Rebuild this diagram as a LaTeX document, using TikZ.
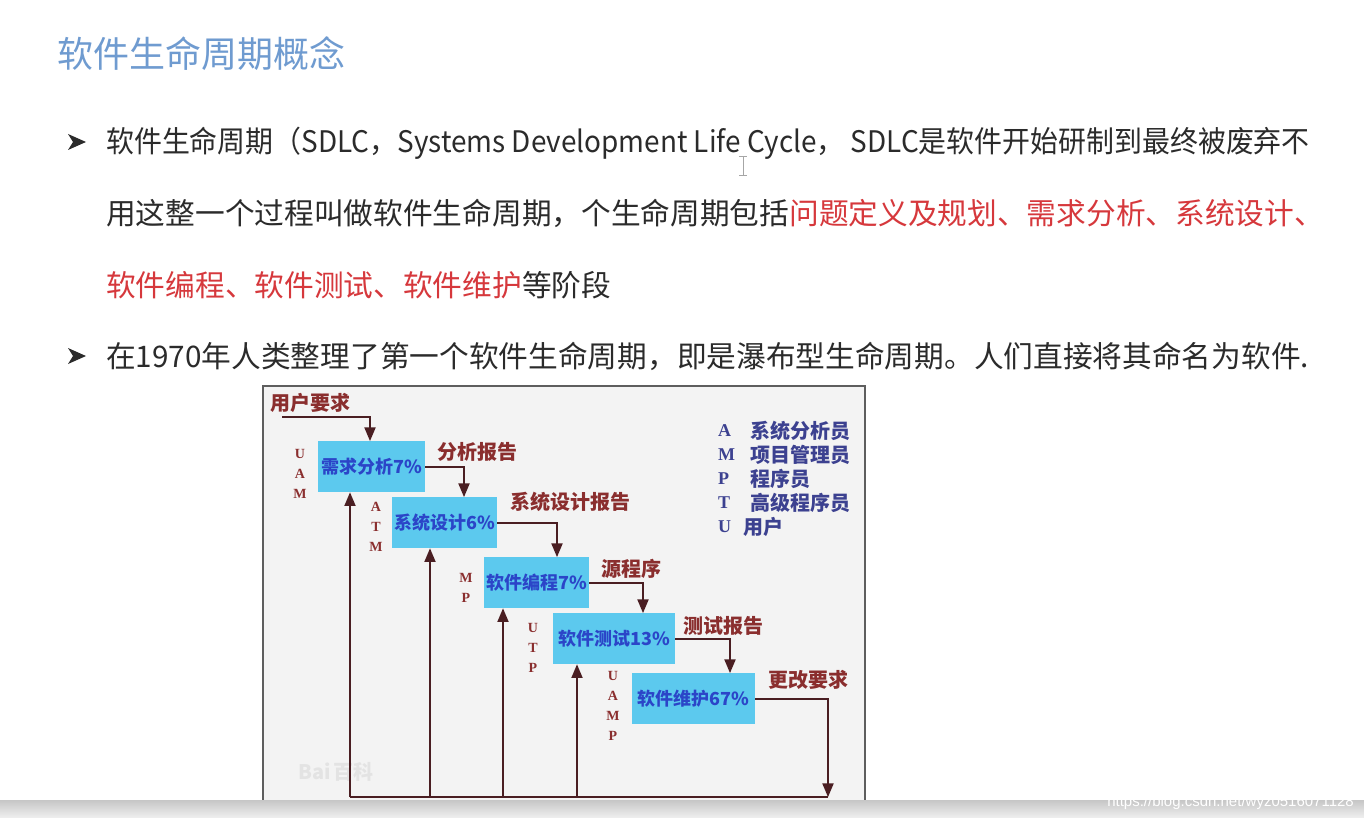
\documentclass[tikz,border=0pt]{standalone}
\usepackage{fontspec}
\usepackage{tikz}
\usetikzlibrary{calc,arrows}
\setmainfont{Noto Sans CJK SC}
\newfontfamily\romfont{Liberation Serif}
\newfontfamily\urlfont{Liberation Sans}
\definecolor{titleblue}{HTML}{6F9BD0}
\definecolor{redtxt}{HTML}{D6383C}
\definecolor{bodytxt}{HTML}{2B2B2B}
\definecolor{boxcyan}{HTML}{5CC9EE}
\definecolor{boxtxt}{HTML}{2B45C8}
\definecolor{lblred}{HTML}{8A2E2E}
\definecolor{arrowc}{HTML}{4A1E22}
\definecolor{legblue}{HTML}{3C4190}
\definecolor{framec}{HTML}{5E5E5E}
\definecolor{panel}{HTML}{F3F3F3}
\tikzset{
  line/.style={anchor=base west,inner sep=0pt,text=bodytxt,font=\fontsize{29.7}{29.7}\selectfont},
  stage/.style={fill=boxcyan,anchor=north west,minimum width=#1,minimum height=51pt,inner sep=0pt,text=boxtxt,font=\fontsize{18}{18}\selectfont\bfseries},
  doc/.style={anchor=west,inner sep=0pt,text=lblred,font=\fontsize{20}{20}\selectfont\bfseries},
  roles/.style={inner sep=0pt,align=center,text=lblred,font=\romfont\fontsize{14}{20}\selectfont\bfseries},
  legkey/.style={anchor=west,inner sep=0pt,text=legblue,font=\romfont\fontsize{18}{18}\selectfont\bfseries},
  legval/.style={anchor=west,inner sep=0pt,text=legblue,font=\fontsize{20}{20}\selectfont\bfseries},
  flow/.style={draw=arrowc,line width=2.2pt,-triangle 45},
  wire/.style={draw=arrowc,line width=2.2pt}
}
\begin{document}
\begin{tikzpicture}[x=1pt,y=-1pt]
\useasboundingbox (0,0) rectangle (1364,818);
\fill[white] (0,0) rectangle (1364,818);
\node[anchor=base west,inner sep=0pt,text=titleblue,font=\fontsize{36}{36}\selectfont](title)at(57,68){软件生命周期概念};
\fill[bodytxt] (68,134) -- (86,142) -- (68,150) -- (73,142) -- cycle;
\node[line](l1)at(106,153){\scalebox{0.94}[1]{软件生命周期（SDLC，Systems Development Life Cycle， SDLC是软件开始研制到最终被废弃不}};
\node[line](l2)at(106,225){用这整一个过程叫做软件生命周期，个生命周期包括\textcolor{redtxt}{问题定义及规划、需求分析、系统设计、}};
\node[line](l3)at(106,296){\textcolor{redtxt}{软件编程、软件测试、软件维护}等阶段};
\fill[bodytxt] (68,348) -- (86,356) -- (68,364) -- (73,356) -- cycle;
\node[line](l4)at(106,367){在1970年人类整理了第一个软件生命周期，即是瀑布型生命周期。人们直接将其命名为软件.};
\draw[gray!70,line width=1pt] (739,157) -- (747,157) (743,157) -- (743,176) (739,176) -- (747,176);
\fill[panel] (263,386) rectangle (865,800);
\draw[framec,line width=2.5pt] (263,800) -- (263,386) -- (865,386) -- (865,800);
\node[anchor=west,inner sep=0pt,text=gray!22,font=\fontsize{20}{20}\selectfont\bfseries](baike)at(298,772){Bai\,百科};
\node[stage=107pt](req)at(318,441){需求分析7\%};
\node[stage=105pt](des)at(392,497){系统设计6\%};
\node[stage=105pt](code)at(484,557){软件编程7\%};
\node[stage=122pt](test)at(553,613){软件测试13\%};
\node[stage=123pt](mnt)at(632,673){软件维护67\%};
\node[roles](r1)at(300,474){U\\A\\M};
\node[roles](r2)at(376,527){A\\T\\M};
\node[roles](r3)at(466,588){M\\P};
\node[roles](r4)at(533,648){U\\T\\P};
\node[roles](r5)at(613,706){U\\A\\M\\P};
\node[doc](user)at(270,403){用户要求};
\node[doc](rep1)at(437,452){分析报告};
\node[doc](rep2)at(510,502){系统设计报告};
\node[doc](rep3)at(601,569){源程序};
\node[doc](rep4)at(683,626){测试报告};
\node[doc](rep5)at(768,680){更改要求};
\coordinate (u0) at (282,417);
\coordinate (end) at (828,797);
\coordinate (base) at (350,797);
\draw[flow] (u0) -| ($(req.north west)+(52,0)$);
\draw[flow] (req.east) -| ($(des.north west)+(72,0)$);
\draw[flow] (des.east) -| ($(code.north west)+(73,0)$);
\draw[flow] (code.east) -| ($(test.north west)+(90,0)$);
\draw[flow] (test.east) -| ($(mnt.north west)+(98,0)$);
\draw[flow] (mnt.east) -| (end);
\draw[wire] (base) -- (end);
\draw[flow] (base) -- (base |- req.south);
\draw[flow] (430,797) -- (430,0 |- des.south);
\draw[flow] (503,797) -- (503,0 |- code.south);
\draw[flow] (577,797) -- (577,0 |- test.south);
\node[legkey](ka)at(718,431){A};
\node[legval](va)at(750,431){系统分析员};
\node[legkey](km)at(718,455){M};
\node[legval](vm)at(750,455){项目管理员};
\node[legkey](kp)at(718,479){P};
\node[legval](vp)at(750,479){程序员};
\node[legkey](kt)at(718,503){T};
\node[legval](vt)at(750,503){高级程序员};
\node[legkey](ku)at(718,527){U};
\node[legval](vu)at(743,527){用户};
\shade[top color=gray!45,bottom color=gray!12] (0,800) rectangle (1364,818);
\node[anchor=base east,inner sep=0pt,text=white,font=\urlfont\fontsize{15}{15}\selectfont](url)at(1354,806){https://blog.csdn.net/wyz0516071128};
\end{tikzpicture}
\end{document}
